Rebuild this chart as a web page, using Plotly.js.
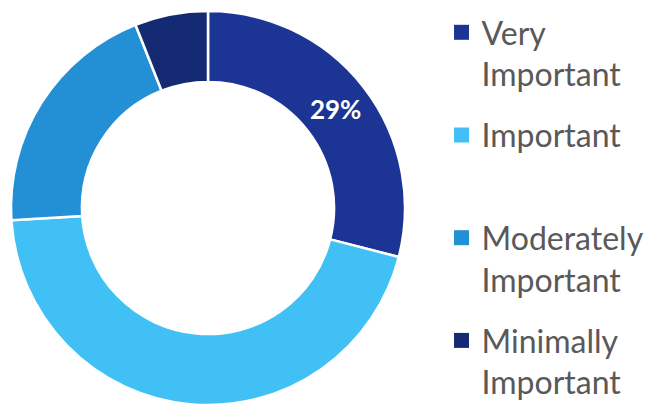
<!DOCTYPE html>
<html><head><meta charset="utf-8">
<script src="https://cdn.plot.ly/plotly-3.0.1.min.js"></script>
<style>html,body{margin:0;padding:0;background:#fff}#c{width:659px;height:407px}</style>
</head><body><div id="c"></div>
<script>
const categories = ["Very<br>Important", "Important<br> ", "Moderately<br>Important", "Minimally<br>Important"];
const values = [29, 45, 20, 6];
const sliceText = ["29%", "", "", ""];
const colors = ["#1c3594", "#41c0f5", "#238fd4", "#142a73"];

function tuneLegend() {
  const root = document.querySelector("#c");
  root.querySelectorAll(".legend .legendpoints path").forEach(p => {
    p.setAttribute("d", "M7.5,7.5H-7.5V-7.5H7.5Z");
    p.setAttribute("transform", "translate(20,0)");
    p.style.strokeWidth = "0px";
  });
  const items = root.querySelectorAll(".legend .traces");
  items.forEach((g, i) => {
    const t = g.getAttribute("transform") || "";
    const m = t.match(/translate\(\s*([-\d.]+)[ ,]+([-\d.]+)\s*\)/);
    if (m) {
      const x = parseFloat(m[1]), y = parseFloat(m[2]);
      g.setAttribute("transform", `translate(${x},${y + 5 + 16.5 * i})`);
    }
  });
  root.querySelectorAll(".legend .scrollbox").forEach(s => s.removeAttribute("clip-path"));
  root.querySelectorAll(".legend").forEach(s => s.removeAttribute("clip-path"));
}

Plotly.newPlot("c", [{
  type: "pie",
  labels: categories,
  values: values,
  text: sliceText,
  textinfo: "text",
  hole: 0.64,
  sort: false,
  direction: "clockwise",
  rotation: 0,
  marker: {colors: colors, line: {color: "#ffffff", width: 2.5}},
  textposition: "inside",
  insidetextorientation: "horizontal",
  insidetextfont: {family: "Lato", size: 26, color: "#ffffff", weight: "bold"},
  domain: {x: [11/659, 405/659], y: [2/407, 396/407]}
}], {
  width: 659, height: 407,
  margin: {l: 0, r: 0, t: 0, b: 0},
  paper_bgcolor: "#ffffff",
  showlegend: true,
  legend: {x: 0.67, y: 1.0, xanchor: "left", yanchor: "top", valign: "top",
           font: {family: "Lato", size: 32, color: "#595959"},
           traceorder: "normal"}
}, {displayModeBar: false}).then(tuneLegend);
</script></body></html>
